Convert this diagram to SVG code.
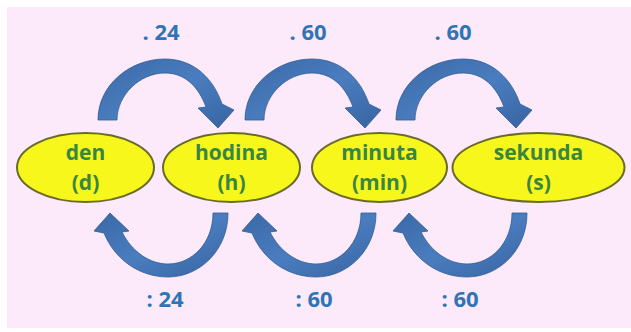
<svg xmlns="http://www.w3.org/2000/svg" xmlns:xlink="http://www.w3.org/1999/xlink" width="631" height="332" viewBox="0 0 631 332">
<style>
.node ellipse{fill:#f7f71c;stroke:#6a6a2c;stroke-width:2}
.node text{font-family:"Open Sans","Liberation Sans",sans-serif;font-weight:bold;font-size:21px;fill:#3a8640;text-anchor:middle}
.lbl{font-family:"Open Sans","Liberation Sans",sans-serif;font-weight:bold;font-size:22px;fill:#2f74b5;text-anchor:middle}
.arr{fill:url(#ag);stroke:#2f5d96;stroke-width:0.8}
</style>
<defs>
<linearGradient id="ag" x1="0" y1="0" x2="1" y2="1">
<stop offset="0" stop-color="#3a68a6"/>
<stop offset="0.5" stop-color="#4a7dbf"/>
<stop offset="1" stop-color="#3764a2"/>
</linearGradient>
<path id="topArrow" class="arr" d="M98,120 C98,85 130,59 165,59 C195,59 214,80 222,104 L234,110 L218,128 L198,108 L206,107 C199,88 186,73 165,73 C140,73 117,95 117,120 Z"/>
<path id="botArrow" class="arr" d="M228,213 C228,250 200,277 168,277 C140,277 115,260 104,233 L94,231 L110,213 L129,231 L122,232 C132,252 150,264 168,264 C192,264 213,243 213,213 Z"/>
</defs>
<rect x="0" y="0" width="631" height="332" fill="#ffffff"/>
<rect x="7" y="7" width="624" height="321" fill="#fce9f9"/>
<g id="connectors">
<use xlink:href="#topArrow"/>
<use xlink:href="#topArrow" transform="translate(147,0)"/>
<use xlink:href="#topArrow" transform="translate(298,0)"/>
<use xlink:href="#botArrow"/>
<use xlink:href="#botArrow" transform="translate(148,0)"/>
<use xlink:href="#botArrow" transform="translate(299,0)"/>
<text class="lbl" x="161" y="40">. 24</text>
<text class="lbl" x="308" y="40">. 60</text>
<text class="lbl" x="453" y="40">. 60</text>
<text class="lbl" x="165" y="307">: 24</text>
<text class="lbl" x="314" y="307">: 60</text>
<text class="lbl" x="460" y="307">: 60</text>
</g>
<g id="den" class="node">
<ellipse cx="85.5" cy="167.5" rx="68.5" ry="34.5"/>
<text x="85.5" y="160">den</text>
<text x="85.5" y="190">(d)</text>
</g>
<g id="hodina" class="node">
<ellipse cx="231.5" cy="167.5" rx="68.5" ry="34.5"/>
<text x="231.5" y="160">hodina</text>
<text x="231.5" y="190">(h)</text>
</g>
<g id="minuta" class="node">
<ellipse cx="379.5" cy="167.5" rx="67.5" ry="34.5"/>
<text x="379.5" y="160">minuta</text>
<text x="379.5" y="190">(min)</text>
</g>
<g id="sekunda" class="node">
<ellipse cx="538.5" cy="167.5" rx="86" ry="34.5"/>
<text x="538.5" y="160">sekunda</text>
<text x="538.5" y="190">(s)</text>
</g>
</svg>
